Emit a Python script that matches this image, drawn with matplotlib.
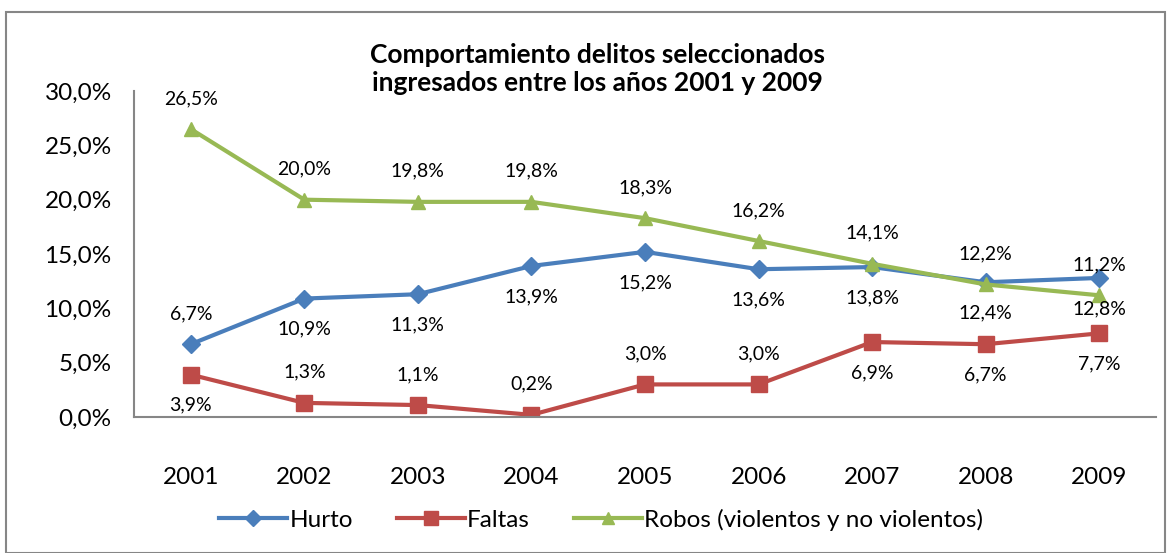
import matplotlib.pyplot as plt
import numpy as np
from matplotlib.ticker import FuncFormatter
from matplotlib.patches import Rectangle

plt.rcParams['font.family'] = ['Lato', 'DejaVu Sans']

years = ["2001", "2002", "2003", "2004", "2005", "2006", "2007", "2008", "2009"]
hurto = [6.7, 10.9, 11.3, 13.9, 15.2, 13.6, 13.8, 12.4, 12.8]
faltas = [3.9, 1.3, 1.1, 0.2, 3.0, 3.0, 6.9, 6.7, 7.7]
robos = [26.5, 20.0, 19.8, 19.8, 18.3, 16.2, 14.1, 12.2, 11.2]

# where each data label sits: 1 = above the point, -1 = below
hurto_pos = [1, -1, -1, -1, -1, -1, -1, -1, -1]
faltas_pos = [-1, 1, 1, 1, 1, 1, -1, -1, -1]
robos_pos = [1, 1, 1, 1, 1, 1, 1, 1, 1]

def pct(v):
    return f"{v:.1f}%".replace('.', ',')

fig = plt.figure(figsize=(11.67, 5.53), dpi=100)
ax = fig.add_axes([0.1148, 0.2459, 0.8758, 0.5895])

x = np.arange(len(years))
series = [
    ("Hurto", hurto, hurto_pos, '#4A7EBB', 'D', 9),
    ("Faltas", faltas, faltas_pos, '#BE4B48', 's', 11),
    ("Robos (violentos y no violentos)", robos, robos_pos, '#98B954', '^', 10),
]
for name, vals, pos, color, marker, ms in series:
    ax.plot(x, vals, color=color, lw=3, marker=marker, ms=ms, label=name)
    for xi, v, p in zip(x, vals, pos):
        ax.annotate(pct(v), (xi, v), xytext=(0, 22 * p), textcoords='offset points',
                    ha='center', va='center', fontsize=14, annotation_clip=False)

ax.set_xlim(-0.5, len(years) - 0.5)
ax.set_ylim(0, 30)
ax.set_yticks(np.arange(0, 31, 5))
ax.yaxis.set_major_formatter(FuncFormatter(lambda v, _: pct(v)))
ax.set_xticks(x)
ax.set_xticklabels(years)
ax.tick_params(axis='both', length=0, labelsize=17.5)
ax.tick_params(axis='x', pad=36)
ax.tick_params(axis='y', pad=16)
for s in ['top', 'right']:
    ax.spines[s].set_visible(False)
for s in ['left', 'bottom']:
    ax.spines[s].set_color('#868686')
    ax.spines[s].set_linewidth(1.5)

fig.text(0.5116, 0.875, "Comportamiento delitos seleccionados\ningresados entre los años 2001 y 2009",
         ha='center', va='center', fontsize=19, fontweight='bold', linespacing=1.2)

fig.legend(loc='center', bbox_to_anchor=(0.515, 0.06), ncol=3, frameon=False,
           fontsize=17.5, handlelength=2.8, handletextpad=0.1, columnspacing=1.8,
           markerscale=0.9)

fig.patches.append(Rectangle((0.005, 0.0), 0.993, 0.978, transform=fig.transFigure,
                             fill=False, edgecolor='#868686', lw=1.5))

plt.savefig('out.png', dpi=100)
